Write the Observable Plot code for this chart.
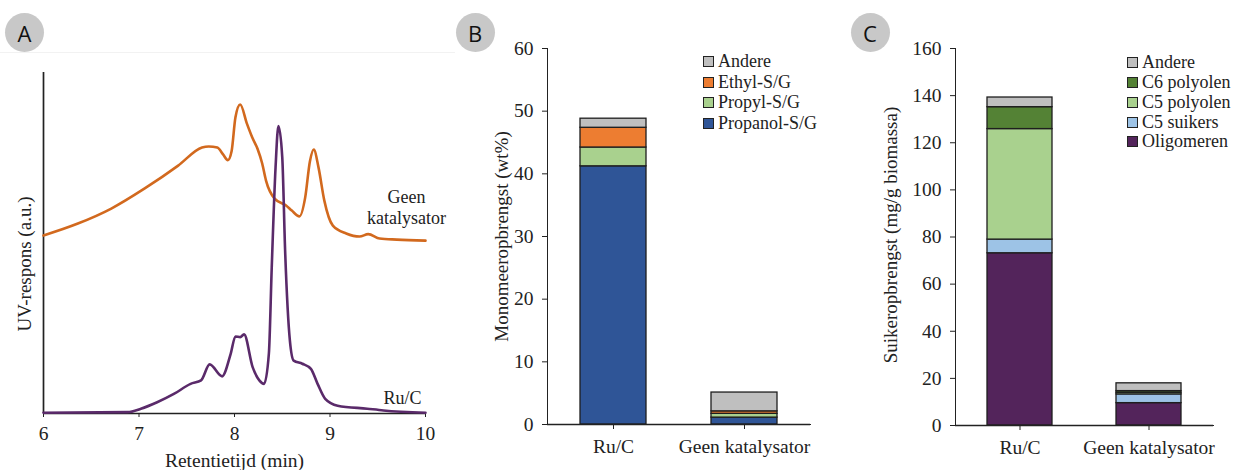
<!DOCTYPE html>
<html><head><meta charset="utf-8">
<script src="https://cdn.jsdelivr.net/npm/d3@7"></script>
<script src="https://cdn.jsdelivr.net/npm/@observablehq/plot@0.6"></script>
<style>
html,body{margin:0;padding:0;background:#fff;}
#root{position:relative;width:1236px;height:470px;overflow:hidden;font-family:"Liberation Serif","Times New Roman",serif;}
.panel{position:absolute;top:0;}
.panel svg{overflow:visible;}
.panel svg text{font-family:"Liberation Serif","Times New Roman",serif !important;}
.badge{position:absolute;width:39px;height:39px;border-radius:50%;background:#c8c8c8;font-family:"Open Sans","Liberation Sans",sans-serif;font-size:22px;color:#111;display:flex;align-items:center;justify-content:center;}
.legend{position:absolute;font-size:18px;color:#222;font-family:"Liberation Serif","Times New Roman",serif;}
.legend .row{display:flex;align-items:center;white-space:nowrap;}
.legend .sw{width:9px;height:9px;border:1px solid #222;margin-right:4px;box-sizing:content-box;}
.hair{position:absolute;left:0;top:52px;width:455px;height:1px;background:#f2f2f2;}
</style></head><body><div id="root"><div class="hair"></div></div><script>
// ---------- Panel A: chromatograms ----------
const timeGeen = [6.00,6.36,6.71,7.06,7.41,7.66,7.73,7.82,7.88,7.93,7.97,8.01,8.06,8.13,8.185,8.24,8.29,8.33,8.42,8.54,8.60,8.68,8.74,8.79,8.83,8.88,8.94,9.03,9.17,9.31,9.40,9.52,9.70,10.00];
const respGeen = [52.2,55.7,60.1,66.0,72.7,78.0,78.3,78.0,76.0,74.3,77.0,86.9,90.6,85.0,81.0,77.7,73.3,68.3,63.0,61.0,59.5,57.8,63.3,74.0,77.4,72.1,62.5,55.1,52.8,51.9,52.6,51.3,51.0,50.7];
const timeRuC = [6.00,6.88,7.02,7.19,7.37,7.54,7.65,7.74,7.87,7.96,8.01,8.06,8.10,8.19,8.26,8.31,8.36,8.39,8.43,8.46,8.50,8.53,8.58,8.62,8.71,8.80,8.87,8.95,9.08,9.39,9.56,10.00];
const respRuC = [0.2,0.4,1.4,3.3,5.8,8.7,9.7,14.4,10.9,17.5,22.6,22.4,23.2,13.6,9.7,8.7,17.6,42.9,72.2,84.3,75.2,47.8,21.4,15.5,14.6,13.1,8.7,4.3,2.3,1.4,0.9,0.2];
const xTicksA = [6,7,8,9,10];
const seriesLabelsA = ["Geen\nkatalysator","Ru/C"];
const seriesLabelX = [9.80, 9.76];
const seriesLabelY = [60.5, 4.9];
const xLabelA = "Retentietijd (min)";
const yLabelA = "UV-respons (a.u.)";

// ---------- Panels B and C: stacked bars ----------
const cats = ["Ru/C","Geen katalysator"];
const seriesB = ["Propanol-S/G","Propyl-S/G","Ethyl-S/G","Andere"];
const colorsB = ["#2f5597","#a9d18e","#ed7d31","#bfbfbf"];
const propanolB = [41.2, 1.1];
const propylB = [3.0, 0.6];
const ethylB = [3.15, 0.4];
const andereB = [1.45, 3.0];
const yTicksB = [0,10,20,30,40,50,60];
const yLabelB = "Monomeeropbrengst (wt%)";

const seriesC = ["Oligomeren","C5 suikers","C5 polyolen","C6 polyolen","Andere"];
const colorsC = ["#53245b","#9dc3e6","#a9d18e","#548235","#bfbfbf"];
const oligomerenC = [73.1, 9.5];
const c5suikersC = [5.8, 3.7];
const c5polyolenC = [46.9, 0.7];
const c6polyolenC = [9.3, 0.7];
const andereC = [4.1, 3.3];
const yTicksC = [0,20,40,60,80,100,120,140,160];
const yLabelC = "Suikeropbrengst (mg/g biomassa)";

const SERIF = "'Liberation Serif', 'Times New Roman', serif";
const root = document.getElementById("root");

function place(el, left) {
  const d = document.createElement("div");
  d.className = "panel";
  d.style.left = left + "px";
  d.appendChild(el);
  root.appendChild(d);
}

// Panel A
const geen = timeGeen.map((t,i)=>({t, v: respGeen[i]}));
const ruc = timeRuC.map((t,i)=>({t, v: respRuC[i]}));
const labA = seriesLabelsA.map((s,i)=>({s, x: seriesLabelX[i], y: seriesLabelY[i]}));
const plotA = Plot.plot({
  width: 450, height: 470,
  marginLeft: 43, marginRight: 25, marginTop: 72, marginBottom: 57,
  style: {fontFamily: SERIF, fontSize: "19.5px", color: "#222", background: "transparent"},
  x: {domain: [6,10], ticks: xTicksA, tickFormat: d => String(d), tickSize: 4, tickPadding: 9, label: null},
  y: {domain: [0,100], axis: null},
  marks: [
    Plot.ruleX([6], {stroke: "#222", strokeWidth: 1.7}),
    Plot.ruleY([0], {stroke: "#222", strokeWidth: 1.7}),
    Plot.line(geen, {x: "t", y: "v", stroke: "#d2691e", strokeWidth: 2.6, curve: "monotone-x"}),
    Plot.line(ruc, {x: "t", y: "v", stroke: "#5a2a6a", strokeWidth: 2.6, curve: "monotone-x"}),
    Plot.text(labA, {x: "x", y: "y", text: "s", fontSize: 18, lineHeight: 1.17, textAnchor: "middle", lineAnchor: "middle", fill: "#222", fontFamily: SERIF}),
    Plot.text([xLabelA], {text: d=>d, frameAnchor: "bottom", dy: 47, textAnchor: "middle", lineAnchor: "middle", fontSize: 19.5, fill: "#222", fontFamily: SERIF}),
    Plot.text([yLabelA], {text: d=>d, frameAnchor: "left", rotate: -90, dx: -19, dy: 21, textAnchor: "middle", lineAnchor: "middle", fontSize: 19, fill: "#222", fontFamily: SERIF})
  ]
});
place(plotA, 0);

function stacked({width, marginLeft, marginRight, marginBottom, yMax, yTicks, series, colors, values, yLabel, dx, dy}) {
  const rows = [];
  series.forEach((s, si) => cats.forEach((c, ci) => rows.push({cat: c, series: s, value: values[si][ci]})));
  return Plot.plot({
    width, height: 470,
    marginLeft, marginRight, marginTop: 48, marginBottom,
    style: {fontFamily: SERIF, fontSize: "19.5px", color: "#222", background: "transparent"},
    x: {domain: cats, paddingInner: 0.5, paddingOuter: 0.25, tickSize: 5, tickPadding: 10, label: null, line: true},
    y: {domain: [0, yMax], ticks: yTicks, tickSize: 5, tickPadding: 9, label: null, line: true},
    color: {domain: series, range: colors},
    marks: [
      Plot.barY(rows, Plot.stackY({x: "cat", y: "value", fill: "series", stroke: "#1e1e1e", strokeWidth: 1.3})),
      Plot.ruleY([0], {stroke: "#222", strokeWidth: 1.4}),
      Plot.text([yLabel], {text: d=>d, frameAnchor: "left", rotate: -90, dx, dy, textAnchor: "middle", lineAnchor: "middle", fontSize: 19, fill: "#222", fontFamily: SERIF})
    ]
  });
}

place(stacked({width: 400, marginLeft: 107, marginRight: 30, marginBottom: 46, yMax: 60, yTicks: yTicksB,
  series: seriesB, colors: colorsB, values: [propanolB, propylB, ethylB, andereB], yLabel: yLabelB, dx: -46, dy: 0}), 440);
place(stacked({width: 396, marginLeft: 115, marginRight: 23, marginBottom: 45, yMax: 160, yTicks: yTicksC,
  series: seriesC, colors: colorsC, values: [oligomerenC, c5suikersC, c5polyolenC, c6polyolenC, andereC], yLabel: yLabelC, dx: -64.5, dy: -2}), 840);

// Legends (top row = last series)
function legend(series, colors, left, top, rowH) {
  const d = document.createElement("div");
  d.className = "legend";
  d.style.left = left + "px";
  d.style.top = top + "px";
  for (let i = series.length - 1; i >= 0; i--) {
    const r = document.createElement("div");
    r.className = "row";
    r.style.height = rowH + "px";
    const sw = document.createElement("span");
    sw.className = "sw";
    sw.style.background = colors[i];
    const t = document.createElement("span");
    t.textContent = series[i];
    r.appendChild(sw); r.appendChild(t);
    d.appendChild(r);
  }
  root.appendChild(d);
}
legend(seriesB, colorsB, 703, 61.7 - 10.25, 20.5);
legend(seriesC, colorsC, 1127, 62.7 - 9.9, 19.8);

// Badges
[["A",5],["B",455.5],["C",850.5]].forEach(([t,l]) => {
  const b = document.createElement("div");
  b.className = "badge";
  b.style.left = l + "px";
  b.style.top = "13px";
  b.textContent = t;
  root.appendChild(b);
});
</script></body></html>
